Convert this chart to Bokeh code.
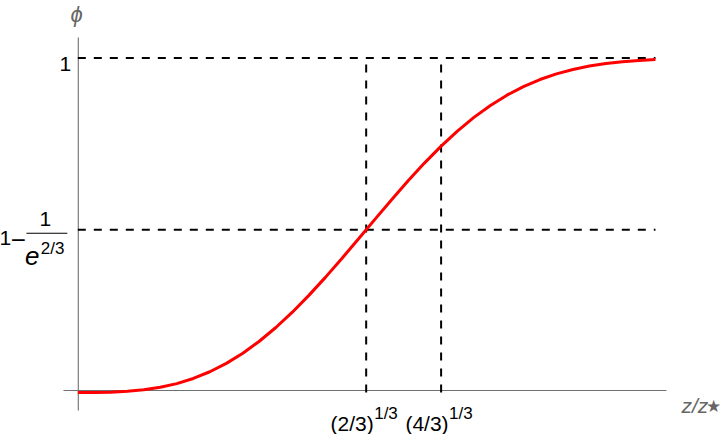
from bokeh.plotting import figure
from bokeh.embed import file_html
from bokeh.resources import INLINE
from bokeh.core.properties import value

# ---- data ----
z_vals = [0.0, 0.05, 0.1, 0.15, 0.2, 0.25, 0.3, 0.35, 0.4, 0.45, 0.5, 0.55,
          0.6, 0.65, 0.7, 0.75, 0.8, 0.85, 0.9, 0.95, 1.0, 1.05, 1.1, 1.15,
          1.2, 1.25, 1.3, 1.35, 1.4, 1.45, 1.5, 1.55, 1.6, 1.65, 1.7, 1.75]
phi_vals = [0.0, 0.0001, 0.001, 0.0034, 0.008, 0.0155, 0.0266, 0.042, 0.062,
            0.0871, 0.1175, 0.1533, 0.1943, 0.2401, 0.2904, 0.3442, 0.4007,
            0.4589, 0.5176, 0.5757, 0.6321, 0.6858, 0.7358, 0.7815, 0.8224,
            0.8582, 0.8889, 0.9146, 0.9357, 0.9526, 0.9658, 0.9759, 0.9834,
            0.9888, 0.9927, 0.9953]
x_ticks = [0.8736, 1.1006]
x_tick_base = ["(2/3)", "(4/3)"]
x_tick_sup = ["1/3", "1/3"]
y_levels = [1.0, 0.4866]
y_axis_label = "\u03d5"
x_axis_label = "z/z"
x_axis_sub = "\u2605"

# ---- layout ----
W, H = 720, 434
X0, X1 = -0.23417, 1.94699
Y0, Y1 = -0.12556, 1.17190
UX = (X1 - X0) / W
UY = (Y1 - Y0) / H
FONT = value("Liberation Sans")
AXIS_COL = "#707070"
LABEL_COL = "#666666"

p = figure(width=W, height=H, x_range=(X0, X1), y_range=(Y0, Y1),
           x_axis_type=None, y_axis_type=None, toolbar_location=None,
           output_backend="svg", min_border=0)
p.outline_line_color = None
p.background_fill_color = "white"
p.border_fill_color = "white"

x_max = z_vals[-1]

# axes lines
p.segment(x0=[-14.3 * UX], x1=[x_max + 11 * UX], y0=[2 * UY], y1=[2 * UY],
          line_color=AXIS_COL, line_width=1.1)
p.segment(x0=[0.0015], x1=[0.0015], y0=[-18 * UY], y1=[1 + 20.5 * UY],
          line_color=AXIS_COL, line_width=1.1)

# dashed reference lines
p.segment(x0=[0] * len(y_levels), x1=[x_max] * len(y_levels), y0=y_levels, y1=y_levels,
          line_color="black", line_width=2.2, line_dash="8 8")
p.segment(x0=x_ticks, x1=x_ticks, y0=[0] * len(x_ticks), y1=[y_levels[0]] * len(x_ticks),
          line_color="black", line_width=2, line_dash="8 8")

# curve
p.line(z_vals, phi_vals, line_color="#ff0000", line_width=3)


def label(x, y, txt, dx, dy, size, align="left", baseline="alphabetic",
          color="black", style="normal"):
    p.text(x=[x], y=[y], text=[txt], x_offset=dx, y_offset=dy,
           text_font=FONT, text_font_size=value(f"{size}px"),
           text_align=align, text_baseline=baseline, text_color=color,
           text_font_style=style)


# x tick labels
for xt, b, s in zip(x_ticks, x_tick_base, x_tick_sup):
    label(xt, 0, b, 7.5, 31.3, 21, align="right")
    label(xt, 0, s, 8.0, 21.0, 17, align="left")

# y tick labels
label(0, y_levels[0], "1", -6.6, 5.8, 21, align="right")
lv = y_levels[1]
label(0, lv, "1", -66.6, 8.0, 21, align="right")
label(0, lv, "\u2212", -59.5, 10.0, 26, align="center")
label(0, lv, "1", -32.4, -10.9, 21, align="center")
p.segment(x0=[-51.3 * UX], x1=[-10.5 * UX], y0=[lv - 3.5 * UY], y1=[lv - 3.5 * UY],
          line_color="black", line_width=1.1)
label(0, lv, "e", -52.8, 25.8, 26, align="left", style="italic")
label(0, lv, "2/3", -37.0, 18.8, 17, align="left")

# axis labels
label(0, y_levels[0], y_axis_label, -1.3, -43.5, 22, align="center",
      baseline="middle", color=LABEL_COL, style="italic")
label(x_max, 0, x_axis_label, 26, 13, 21, align="left", color=LABEL_COL, style="italic")
label(x_max, 0, x_axis_sub, 51.0, 14.0, 17, align="left", baseline="alphabetic", color=LABEL_COL)

open("out.html", "w").write(file_html(p, INLINE))
